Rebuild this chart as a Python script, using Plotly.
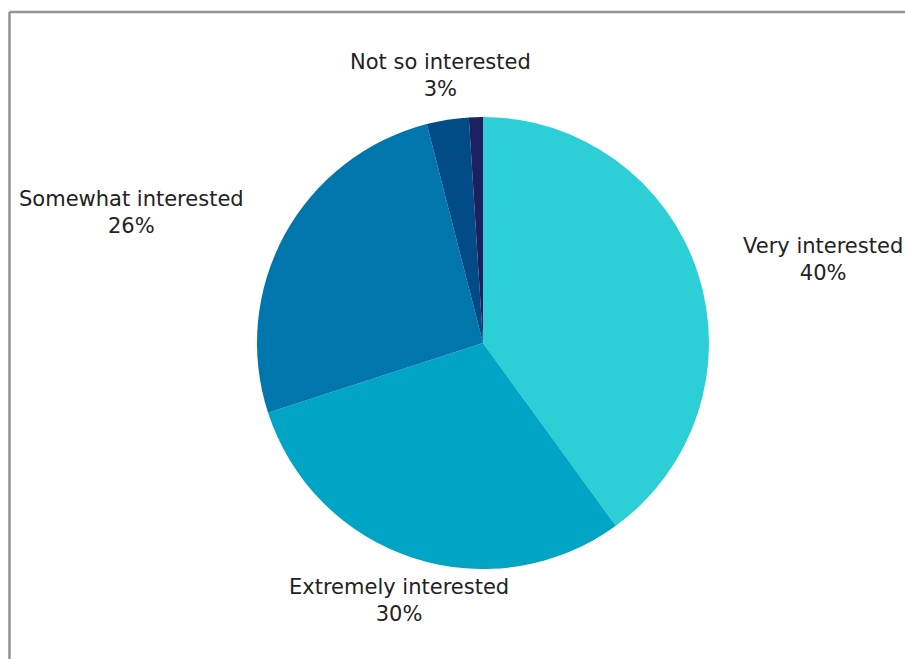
import math
import plotly.graph_objects as go

labels = ["Very interested", "Extremely interested", "Somewhat interested", "Not so interested", "Other"]
values = [40, 30, 26, 3, 1]
colors = ["#2DCFD6", "#00A5C5", "#0076AC", "#014B87", "#1B2160"]
show_label = [True, True, True, True, False]

W, H = 905, 659
cx, cy, r = 483, 343, 226
label_gap = 45

fig = go.Figure(go.Pie(
    labels=labels,
    values=values,
    textinfo="none",
    sort=False,
    direction="clockwise",
    rotation=0,
    marker=dict(colors=colors, line=dict(width=0)),
    domain=dict(x=[(cx - r) / W, (cx + r) / W], y=[1 - (cy + r) / H, 1 - (cy - r) / H]),
    showlegend=False,
    hoverinfo="label+percent",
))

# data labels placed outside each slice at its mid angle
total = sum(values)
cum = 0
annotations = []
for lab, v, show in zip(labels, values, show_label):
    mid = (cum + v / 2) / total * 2 * math.pi
    cum += v
    if not show:
        continue
    s, c = math.sin(mid), math.cos(mid)
    px = cx + (r + label_gap) * s
    py = cy - (r + label_gap) * c
    if s > 0.7:
        xa = "left"
    elif s < -0.7:
        xa = "right"
    else:
        xa = "center"
    annotations.append(dict(
        x=px / W, y=1 - py / H, xref="paper", yref="paper",
        text=f"{lab}<br>{round(v / total * 100)}%",
        showarrow=False, xanchor=xa, yanchor="middle", align="center",
        font=dict(family="DejaVu Sans", size=21, color="#222222"),
    ))

fig.update_layout(
    width=W, height=H,
    margin=dict(l=0, r=0, t=0, b=0),
    paper_bgcolor="white",
    annotations=annotations,
    shapes=[
        dict(type="line", xref="paper", yref="paper", x0=9.5 / W, x1=1.02, y0=1 - 12 / H, y1=1 - 12 / H,
             line=dict(color="#929292", width=2.5)),
        dict(type="line", xref="paper", yref="paper", x0=9.5 / W, x1=9.5 / W, y0=1 - 12 / H, y1=-0.02,
             line=dict(color="#929292", width=2.5)),
    ],
)

fig.write_html("out.html")
